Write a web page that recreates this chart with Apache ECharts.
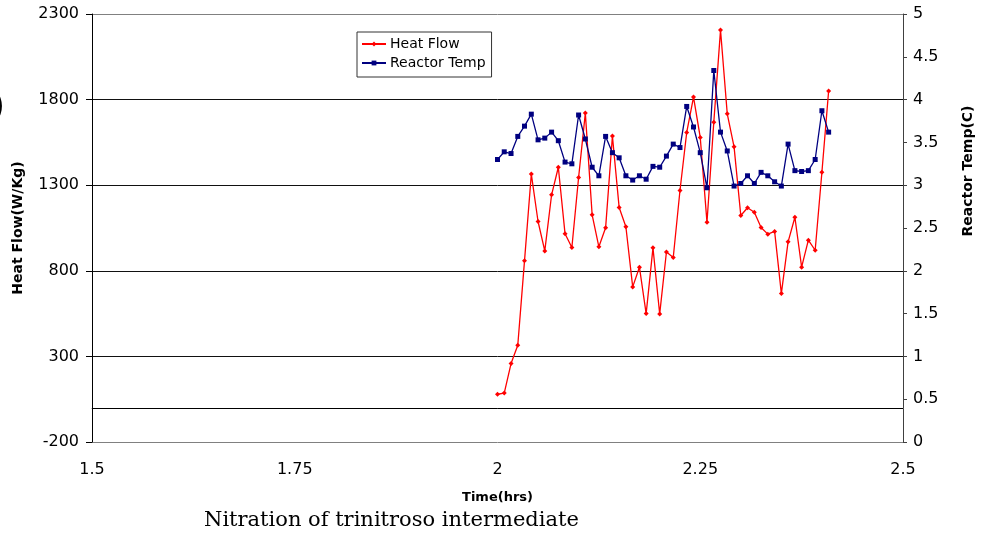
<!DOCTYPE html>
<html>
<head>
<meta charset="utf-8">
<script src="https://cdn.jsdelivr.net/npm/echarts@6/dist/echarts.min.js"></script>
<style>
  html, body { margin: 0; padding: 0; background: #fff; }
  #chart { width: 988px; height: 536px; }
</style>
</head>
<body>
<div id="chart"></div>
<script>
// time in hours, one reading every 30 s
var timeHrs = [2.0000, 2.0083, 2.0167, 2.0250, 2.0333, 2.0417, 2.0500, 2.0583, 2.0667, 2.0750,
  2.0833, 2.0917, 2.1000, 2.1083, 2.1167, 2.1250, 2.1333, 2.1417, 2.1500, 2.1583,
  2.1667, 2.1750, 2.1833, 2.1917, 2.2000, 2.2083, 2.2167, 2.2250, 2.2333, 2.2417,
  2.2500, 2.2583, 2.2667, 2.2750, 2.2833, 2.2917, 2.3000, 2.3083, 2.3167, 2.3250,
  2.3333, 2.3417, 2.3500, 2.3583, 2.3667, 2.3750, 2.3833, 2.3917, 2.4000, 2.4083];
var heatFlow = [79, 86, 258, 365, 858, 1365, 1088, 916, 1244, 1405,
  1016, 936, 1345, 1721, 1127, 940, 1051, 1587, 1170, 1057,
  706, 821, 550, 934, 548, 910, 878, 1269, 1608, 1815,
  1579, 1084, 1668, 2206, 1717, 1524, 1123, 1168, 1142, 1053,
  1014, 1030, 667, 969, 1113, 821, 979, 920, 1376, 1850];
var reactorTemp = [3.30, 3.39, 3.37, 3.57, 3.69, 3.83, 3.53, 3.55, 3.62, 3.52,
  3.27, 3.25, 3.82, 3.54, 3.21, 3.11, 3.57, 3.38, 3.32, 3.11,
  3.06, 3.11, 3.07, 3.22, 3.21, 3.34, 3.48, 3.44, 3.92, 3.68,
  3.38, 2.97, 4.34, 3.62, 3.40, 2.99, 3.02, 3.11, 3.02, 3.15,
  3.11, 3.04, 2.99, 3.48, 3.17, 3.16, 3.17, 3.30, 3.87, 3.62];
var seriesNames = ['Heat Flow', 'Reactor Temp'];
var chartTitle = 'Nitration of trinitroso intermediate';

var font = 'DejaVu Sans, Arial, sans-serif';
var chart = echarts.init(document.getElementById('chart'));

function pairs(ys) {
  return timeHrs.map(function (t, i) { return [t, ys[i]]; });
}

chart.setOption({
  animation: false,
  backgroundColor: '#fff',
  textStyle: { fontFamily: font },
  title: {
    text: chartTitle,
    left: 204,
    top: 510,
    padding: 0,
    textStyle: { fontFamily: 'DejaVu Serif, Times New Roman, serif', fontWeight: 'normal', fontSize: 21, color: '#000' }
  },
  // cut-off glyph at the left edge of the original picture
  graphic: [{
    type: 'text',
    left: -9,
    top: 90,
    silent: true,
    style: { text: ')', fontFamily: font, fontSize: 36, fill: '#000' }
  }],
  legend: {
    orient: 'vertical',
    left: 357,
    top: 32,
    padding: [5, 6, 7, 4],
    itemGap: 5,
    itemWidth: 24,
    itemHeight: 6,
    borderColor: '#333',
    borderWidth: 1,
    data: seriesNames,
    textStyle: { fontFamily: font, fontSize: 14, color: '#000', padding: [0, 0, 0, -1] }
  },
  grid: { left: 92, right: 85, top: 14, bottom: 94 },
  xAxis: {
    type: 'value',
    min: 1.5,
    max: 2.5,
    interval: 0.25,
    name: 'Time(hrs)',
    nameLocation: 'middle',
    nameGap: 49,
    nameTextStyle: { fontFamily: font, fontWeight: 'bold', fontSize: 13, color: '#000' },
    axisLine: { lineStyle: { color: '#808080', width: 1 } },
    axisTick: { show: false },
    axisLabel: { fontFamily: font, fontSize: 16, color: '#000', margin: 20 },
    splitLine: { show: false }
  },
  yAxis: [{
    type: 'value',
    min: -200,
    max: 2300,
    interval: 500,
    name: 'Heat Flow(W/Kg)',
    nameLocation: 'middle',
    nameRotate: 90,
    nameGap: 67,
    nameTextStyle: { fontFamily: font, fontWeight: 'bold', fontSize: 14, color: '#000' },
    axisLine: { show: true, lineStyle: { color: '#000', width: 1 } },
    axisTick: { show: true, length: 6, lineStyle: { color: '#000' } },
    axisLabel: { fontFamily: font, fontSize: 16, color: '#000', margin: 13, formatter: function (v) { return String(v); } },
    splitLine: { show: true, lineStyle: { color: ['#808080', '#111', '#111', '#111', '#111', '#808080'], width: 1 } }
  }, {
    type: 'value',
    position: 'right',
    min: 0,
    max: 5,
    interval: 0.5,
    name: 'Reactor Temp(C)',
    nameLocation: 'middle',
    nameRotate: 90,
    nameGap: 58,
    nameTextStyle: { fontFamily: font, fontWeight: 'bold', fontSize: 14, color: '#000', padding: [0, 0, 0, 114] },
    axisLine: { show: true, lineStyle: { color: '#404040', width: 1 } },
    axisTick: { show: true, length: 4, lineStyle: { color: '#404040' } },
    axisLabel: { fontFamily: font, fontSize: 16, color: '#000', margin: 10 },
    splitLine: { show: false }
  }],
  series: [{
    name: seriesNames[0],
    type: 'line',
    yAxisIndex: 0,
    data: pairs(heatFlow),
    symbol: 'diamond',
    symbolSize: 5,
    color: '#ff0000',
    lineStyle: { color: '#ff0000', width: 1.3 },
    itemStyle: { color: '#ff0000' },
    markLine: {
      silent: true,
      symbol: 'none',
      label: { show: false },
      lineStyle: { color: '#000', width: 1, type: 'solid' },
      data: [{ yAxis: 0 }]
    }
  }, {
    name: seriesNames[1],
    type: 'line',
    yAxisIndex: 1,
    data: pairs(reactorTemp),
    symbol: 'rect',
    symbolSize: 5,
    color: '#000080',
    lineStyle: { color: '#000080', width: 1.3 },
    itemStyle: { color: '#000080' }
  }]
});
</script>
</body>
</html>
